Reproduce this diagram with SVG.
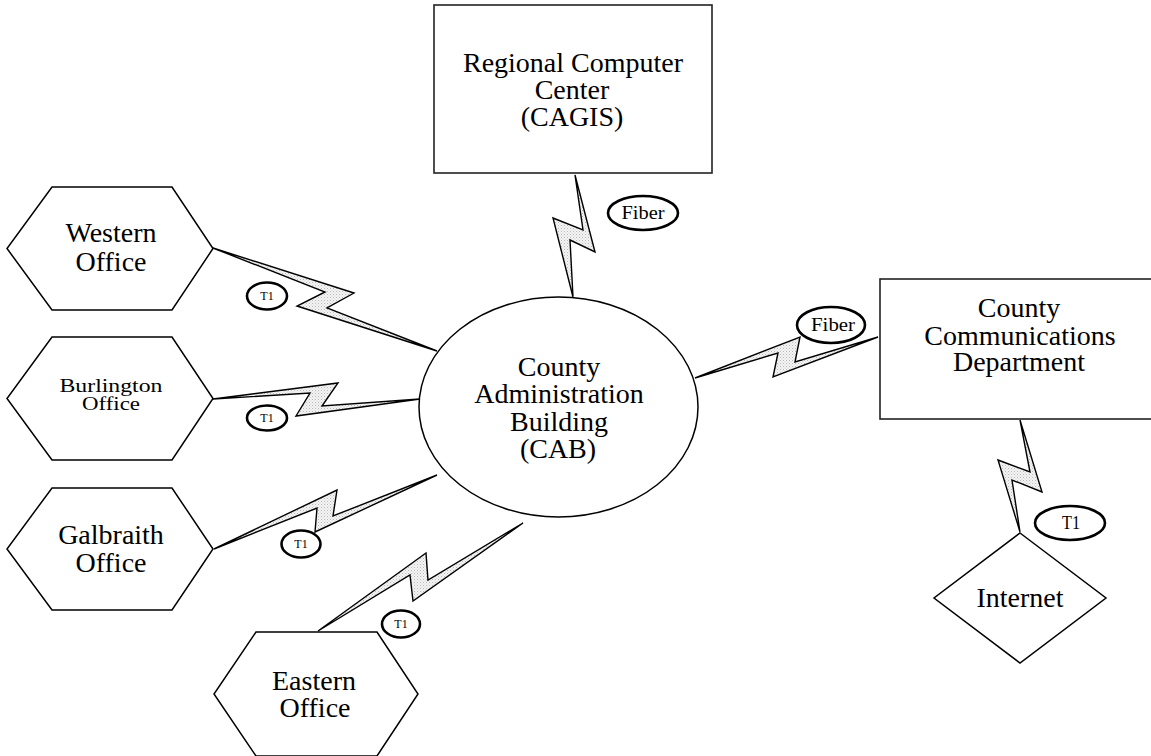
<svg xmlns="http://www.w3.org/2000/svg" width="1151" height="756" viewBox="0 0 1151 756">
  <defs>
    <!-- stippled fill used inside the lightning-bolt links -->
    <pattern id="stipple" width="3" height="3" patternUnits="userSpaceOnUse">
      <rect width="3" height="3" fill="#f4f4f4"/>
      <rect x="0" y="0" width="1" height="1" fill="#b8b8b8"/>
      <rect x="1.5" y="1.5" width="1" height="1" fill="#cfcfcf"/>
    </pattern>
    <style>
      .shape { fill: #ffffff; stroke: #000000; stroke-width: 1.5; }
      .box { fill: #ffffff; stroke: #222222; stroke-width: 1.6; }
      .bolt { fill: url(#stipple); stroke: #000000; stroke-width: 1.4; stroke-linejoin: miter; }
      .tag { fill: #ffffff; stroke: #000000; stroke-width: 2.6; }
      text { font-family: "Liberation Serif", "Times New Roman", serif; fill: #000000; text-anchor: middle; }
      .big { font-size: 28px; }
      .small { font-size: 18px; }
      .tagtext { font-size: 12px; }
      .tagtext2 { font-size: 18px; }
    </style>
  </defs>

  <!-- links (lightning bolts) -->
  <g id="connectors">
    <polygon class="bolt" points="213,248 354,293 327,308 437,351 297,306 325,292"/>
    <polygon class="bolt" points="213,399 338,383 322,406 420,399 296,416 310,393"/>
    <polygon class="bolt" points="214,549 337,490 333,516 437,475 315,532 317,508"/>
    <polygon class="bolt" points="318,631 426,553 428,580 523,523 413,601 410,575"/>
    <polygon class="bolt" points="575,175 595,252 570,240 573,297 553,218 583,230"/>
    <polygon class="bolt" points="695,378 800,337 795,362 878,337 773,377 778,353"/>
    <polygon class="bolt" points="1020,420 1042,492 1012,480 1020,532 998,460 1030,472"/>
  </g>

  <!-- link labels -->
  <g id="labels">
    <ellipse class="tag" cx="267" cy="296" rx="20" ry="13.5"/>
    <text class="tagtext" x="267" y="300">T1</text>
    <ellipse class="tag" cx="267" cy="418" rx="20" ry="12.5"/>
    <text class="tagtext" x="267" y="422">T1</text>
    <ellipse class="tag" cx="301" cy="544" rx="19.5" ry="13.5"/>
    <text class="tagtext" x="301" y="548">T1</text>
    <ellipse class="tag" cx="401" cy="624" rx="19" ry="13.5"/>
    <text class="tagtext" x="401" y="628">T1</text>
    <ellipse class="tag" cx="643" cy="213" rx="35" ry="17"/>
    <text class="tagtext2" x="643" y="219" textLength="43" lengthAdjust="spacingAndGlyphs">Fiber</text>
    <ellipse class="tag" cx="831" cy="325" rx="34" ry="18"/>
    <text class="tagtext2" x="833" y="331" textLength="44" lengthAdjust="spacingAndGlyphs">Fiber</text>
    <ellipse class="tag" cx="1070" cy="523" rx="35" ry="17"/>
    <text class="tagtext2" x="1071" y="529" textLength="18" lengthAdjust="spacingAndGlyphs">T1</text>
  </g>

  <g id="regional-computer-center">
    <rect class="box" x="434" y="5" width="278" height="168"/>
    <text class="big" x="573" y="72">Regional Computer</text>
    <text class="big" x="572" y="99">Center</text>
    <text class="big" x="572" y="126">(CAGIS)</text>
  </g>

  <g id="county-communications">
    <rect class="box" x="880" y="279" width="290" height="140"/>
    <text class="big" x="1019" y="317">County</text>
    <text class="big" x="1020" y="345">Communications</text>
    <text class="big" x="1019" y="371">Department</text>
  </g>

  <g id="internet">
    <polygon class="shape" points="1020,533 1106,598 1020,663 934,598"/>
    <text class="big" x="1020" y="607">Internet</text>
  </g>

  <g id="county-administration-building">
    <ellipse class="shape" cx="558.5" cy="407" rx="139.5" ry="110"/>
    <text class="big" x="559" y="376">County</text>
    <text class="big" x="559" y="403">Administration</text>
    <text class="big" x="559" y="431">Building</text>
    <text class="big" x="558" y="458">(CAB)</text>
  </g>

  <g id="western-office">
    <polygon class="shape" points="52,187 172,187 213,248.5 172,310 52,310 7,248.5"/>
    <text class="big" x="111" y="242">Western</text>
    <text class="big" x="111" y="271">Office</text>
  </g>

  <g id="burlington-office">
    <polygon class="shape" points="52,337 172,337 213,398.5 172,460 52,460 7,398.5"/>
    <text class="small" x="111" y="392" textLength="103" lengthAdjust="spacingAndGlyphs">Burlington</text>
    <text class="small" x="111" y="410" textLength="58" lengthAdjust="spacingAndGlyphs">Office</text>
  </g>

  <g id="galbraith-office">
    <polygon class="shape" points="52,488 172,488 213,549 172,610 52,610 7,549"/>
    <text class="big" x="111" y="544">Galbraith</text>
    <text class="big" x="111" y="572">Office</text>
  </g>

  <g id="eastern-office">
    <polygon class="shape" points="256,632 377,632 418,694 377,756 256,756 214,694"/>
    <text class="big" x="314" y="690">Eastern</text>
    <text class="big" x="315" y="717">Office</text>
  </g>
</svg>
